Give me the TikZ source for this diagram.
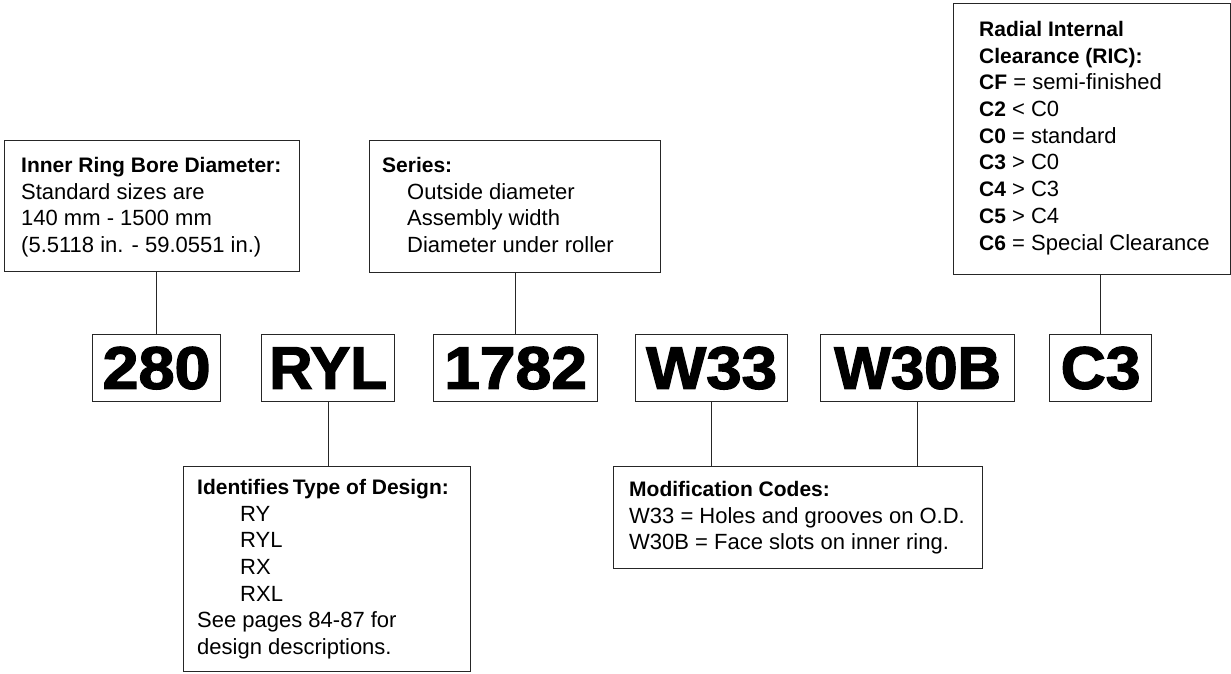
\documentclass[tikz,border=0pt]{standalone}
\usepackage{fontspec}
\setmainfont{Liberation Sans}
\newfontfamily\bigfont{Liberation Sans}[BoldFeatures={FakeBold=2.2}]
\newcommand{\hd}[1]{{\fontsize{21}{26.7}\selectfont\bfseries #1}}
\begin{document}
\begin{tikzpicture}[x=1pt,y=-1pt,
  boxline/.style={draw=black!85,line width=1.2pt},
  infobox/.style={boxline,rectangle,inner sep=0pt,anchor=north west},
  codebox/.style={boxline,rectangle,inner sep=0pt,anchor=north west,minimum height=67pt,
     font=\bigfont\bfseries\fontsize{60}{60}\selectfont},
  infotext/.style={anchor=north west,inner sep=0pt,align=left,
     font=\fontsize{22}{26.7}\selectfont},
  link/.style={draw=black!85,line width=1.2pt}]
\useasboundingbox (0,0) rectangle (1231,673);

% info boxes
\node[infobox,minimum width=295pt,minimum height=131pt] (bore) at (4,140) {};
\node[infotext] (boretxt) at (21,157) {\hd{Inner Ring Bore Diameter:}\\
Standard sizes are\\140 mm - 1500 mm\\(5.5118 in. - 59.0551 in.)};

\node[infobox,minimum width=291pt,minimum height=132pt] (series) at (369,140) {};
\node[infotext] (seriestxt) at (382,157) {\hd{Series:}\\
\hspace*{25pt}Outside diameter\\\hspace*{25pt}Assembly width\\\hspace*{25pt}Diameter under roller};

\node[infobox,minimum width=277pt,minimum height=271pt] (ric) at (953,3) {};
\node[infotext] (rictxt) at (979,21) {\hd{Radial Internal}\\\hd{Clearance (RIC):}\\
\hd{CF} = semi-finished\\\hd{C2} < C0\\\hd{C0} = standard\\\hd{C3} > C0\\
\hd{C4} > C3\\\hd{C5} > C4\\\hd{C6} = Special Clearance};

\node[infobox,minimum width=287pt,minimum height=205pt] (design) at (183,466) {};
\node[infotext] (designtxt) at (197,479) {\hd{Identifies\,Type of Design:}\\
\hspace*{43pt}RY\\\hspace*{43pt}RYL\\\hspace*{43pt}RX\\\hspace*{43pt}RXL\\
See pages 84-87 for\\design descriptions.};

\node[infobox,minimum width=369pt,minimum height=102pt] (mod) at (613,466) {};
\node[infotext] (modtxt) at (629,481) {\hd{Modification Codes:}\\
W33 = Holes and grooves on O.D.\\W30B = Face slots on inner ring.};

% code boxes
\node[codebox,minimum width=128pt] (c280) at (92,334) {\scalebox{1.08}[1]{280}};
\node[codebox,minimum width=133pt] (cryl) at (261,334) {RYL};
\node[codebox,minimum width=164pt] (c1782) at (433,334) {\scalebox{1.07}[1]{1782}};
\node[codebox,minimum width=152pt] (cw33) at (635,334) {\scalebox{1.06}[1]{W33}};
\node[codebox,minimum width=194pt] (cw30b) at (820,334) {W30B};
\node[codebox,minimum width=102pt] (cc3) at (1049,334) {\scalebox{1.04}[1]{C3}};

% connectors
\draw[link] (c280.north) -- (c280.north |- bore.south);
\draw[link] (c1782.north) -- (c1782.north |- series.south);
\draw[link] (cc3.north) -- (cc3.north |- ric.south);
\draw[link] (cryl.south) -- (cryl.south |- design.north);
\draw[link] (cw33.south) -- (cw33.south |- mod.north);
\draw[link] (cw30b.south) -- (cw30b.south |- mod.north);
\end{tikzpicture}
\end{document}
